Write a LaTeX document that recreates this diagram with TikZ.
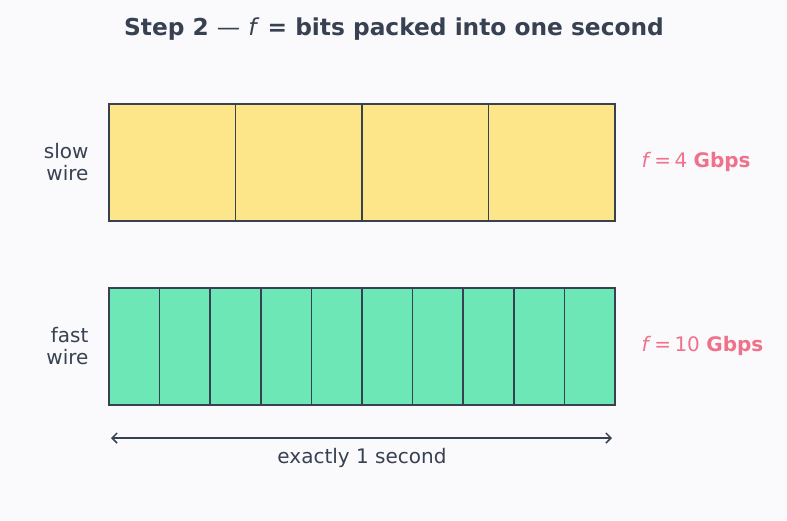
\documentclass[tikz,border=0pt]{standalone}
\usepackage{fontspec}
\setmainfont{DejaVu Sans}
\usetikzlibrary{arrows.meta}
\definecolor{bg}{HTML}{FAFAFD}
\definecolor{ink}{HTML}{374151}
\definecolor{slowc}{HTML}{FDE68A}
\definecolor{fastc}{HTML}{6EE7B7}
\definecolor{pinkc}{HTML}{F0718A}
\begin{document}
\begin{tikzpicture}[x=1pt,y=-1pt,
  cell/.style={draw=ink,line width=1.6pt},
  side/.style={text=ink,font=\fontsize{20}{22}\selectfont,align=right,anchor=east},
  rate/.style={text=pinkc,font=\fontsize{20}{22}\selectfont,anchor=west},
  ttl/.style={text=ink,font=\bfseries\fontsize{23.3}{27}\selectfont}]
\fill[bg] (0,0) rectangle (787,520);
\useasboundingbox (0,0) rectangle (787,520);
\node[ttl] (title) at (394,29) {Step 2 \textmd{—} \textmd{\itshape f} = bits packed into one second};
% slow wire
\fill[slowc] (109,104) rectangle (615,221);
\foreach \i in {1,...,3} {
  \pgfmathsetmacro{\xa}{109+\i*126.5}
  \draw[cell] (\xa,104) -- (\xa,221);
}
\draw[cell] (109,104) rectangle (615,221);
% fast wire
\fill[fastc] (109,288) rectangle (615,405);
\foreach \i in {1,...,9} {
  \pgfmathsetmacro{\xa}{109+\i*50.6}
  \draw[cell] (\xa,288) -- (\xa,405);
}
\draw[cell] (109,288) rectangle (615,405);
\node[side] (slow) at (92,162) {slow\\wire};
\node[side] (fast) at (92,346) {fast\\wire};
\node[rate] (r1) at (638,162) {\textit{f}\,=\,4 \textbf{Gbps}};
\node[rate] (r2) at (638,346) {\textit{f}\,=\,10 \textbf{Gbps}};
\coordinate (aL) at (111,438);
\coordinate (aR) at (612,438);
\draw[ink,line width=1.5pt,{Straight Barb[length=5pt,width=10pt]}-{Straight Barb[length=5pt,width=10pt]}] (aL) -- (aR);
\node[text=ink,font=\fontsize{20}{22}\selectfont] (sec) at (362,458) {exactly 1 second};
\end{tikzpicture}
\end{document}
